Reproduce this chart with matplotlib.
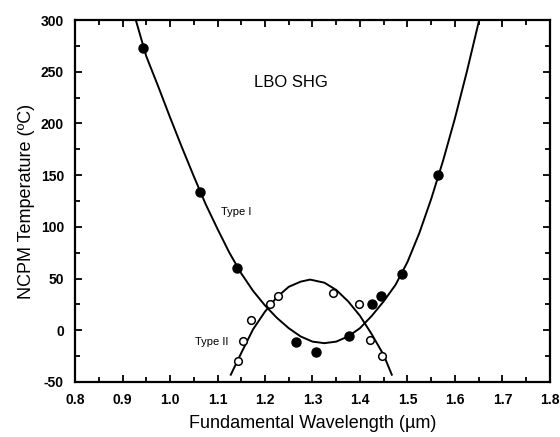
import matplotlib
matplotlib.use("Agg")
import matplotlib.pyplot as plt
from matplotlib.ticker import MultipleLocator

plt.rcParams['font.family'] = ['Liberation Sans', 'DejaVu Sans']
plt.rcParams['axes.unicode_minus'] = False

# measured points, type I (filled) and type II (open)
type1_wl = [0.943, 1.063, 1.141, 1.265, 1.307, 1.377, 1.425, 1.444, 1.488, 1.564]
type1_t = [273, 134, 60, -11, -21, -6, 25, 33, 54, 150]

type2_wl = [1.144, 1.153, 1.170, 1.210, 1.228, 1.343, 1.398, 1.421, 1.446]
type2_t = [-30, -10, 10, 25, 33, 36, 25, -9, -25]

# fitted curves
fit1_wl = [0.928, 0.95, 0.975, 1.0, 1.025, 1.05, 1.075, 1.1, 1.125, 1.15,
           1.175, 1.2, 1.225, 1.25, 1.275, 1.3, 1.325, 1.35, 1.375, 1.4,
           1.425, 1.45, 1.475, 1.5, 1.525, 1.55, 1.575, 1.6, 1.625, 1.651]
fit1_t = [300, 265, 236, 206, 177, 149, 122, 98, 75, 55,
          38, 24, 12, 2, -6, -11, -12.5, -11, -6, 2,
          14, 28, 44, 66, 94, 127, 164, 205, 250, 300]

fit2_wl = [1.128, 1.15, 1.175, 1.2, 1.225, 1.25, 1.275, 1.295, 1.325,
           1.35, 1.375, 1.4, 1.425, 1.45, 1.467]
fit2_t = [-43, -22, 1, 18, 32, 42, 47, 49, 46, 39, 28, 14, -4, -24, -43]

xticks = [0.8, 0.9, 1.0, 1.1, 1.2, 1.3, 1.4, 1.5, 1.6, 1.7, 1.8]
xlabels = ['0.8', '0.9', '1.0', '1.1', '1.2', '1.3', '1.4', '1.5', '1.6', '1.7', '1.8']
yticks = [-50, 0, 50, 100, 150, 200, 250, 300]

fig = plt.figure(figsize=(5.6, 4.37), dpi=100)
ax = fig.add_axes([0.134, 0.126, 0.848, 0.828])

ax.plot(fit1_wl, fit1_t, color='black', lw=1.4)
ax.plot(fit2_wl, fit2_t, color='black', lw=1.4)
ax.plot(type1_wl, type1_t, 'o', color='black', ms=6.5)
ax.plot(type2_wl, type2_t, 'o', mfc='white', mec='black', mew=1.1, ms=5.5)

ax.text(1.255, 240, 'LBO SHG', fontsize=12, ha='center', va='center')
ax.text(1.139, 114, 'Type I', fontsize=8, ha='center', va='center')
ax.text(1.088, -11, 'Type II', fontsize=8, ha='center', va='center')

ax.set_xlim(0.8, 1.8)
ax.set_ylim(-50, 300)
ax.set_xticks(xticks)
ax.set_xticklabels(xlabels)
ax.set_yticks(yticks)
ax.xaxis.set_minor_locator(MultipleLocator(0.05))
ax.yaxis.set_minor_locator(MultipleLocator(25))
ax.tick_params(which='both', direction='in', top=True, right=True,
               labelsize=10, width=1.3)
ax.tick_params(which='major', length=5, pad=8)
ax.tick_params(which='minor', length=3.5)
for lab in ax.get_xticklabels() + ax.get_yticklabels():
    lab.set_fontweight('bold')
for s in ax.spines.values():
    s.set_linewidth(1.6)

ax.set_xlabel('Fundamental Wavelength (\u00b5m)', fontsize=13, labelpad=6)
ax.set_ylabel('NCPM Temperature (\u00baC)', fontsize=13, labelpad=4)

fig.savefig('out.png', dpi=100)
